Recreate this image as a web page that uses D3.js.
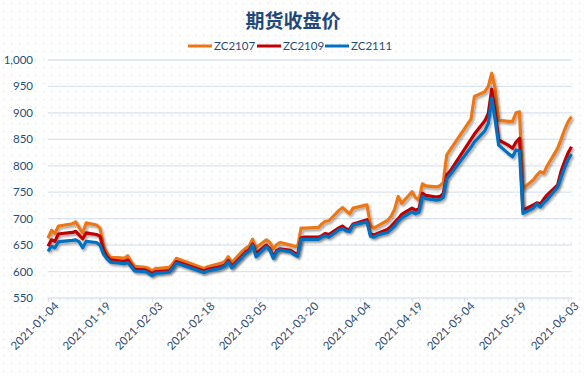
<!DOCTYPE html>
<html>
<head>
<meta charset="utf-8">
<script src="https://cdn.jsdelivr.net/npm/d3@7"></script>
<style>
  body { margin: 0; background: #fff; }
  svg { display: block; }
</style>
</head>
<body>
<svg id="chart" width="585" height="376"></svg>
<script>
// trading days shown on the chart
let dates = [
    "2021-01-04","2021-01-05","2021-01-06","2021-01-07","2021-01-08","2021-01-11","2021-01-12","2021-01-13","2021-01-14","2021-01-15",
    "2021-01-18","2021-01-19","2021-01-20","2021-01-21","2021-01-22","2021-01-25","2021-01-26","2021-01-27","2021-01-28","2021-01-29",
    "2021-02-01","2021-02-02","2021-02-03","2021-02-04","2021-02-05","2021-02-08","2021-02-09","2021-02-10","2021-02-18","2021-02-19",
    "2021-02-22","2021-02-23","2021-02-24","2021-02-25","2021-02-26",
    "2021-03-01","2021-03-02","2021-03-03","2021-03-04","2021-03-05","2021-03-08","2021-03-09","2021-03-10","2021-03-11","2021-03-12",
    "2021-03-15","2021-03-16","2021-03-17","2021-03-18","2021-03-19","2021-03-22","2021-03-23","2021-03-24","2021-03-25","2021-03-26",
    "2021-03-29","2021-03-30","2021-03-31",
    "2021-04-01","2021-04-02","2021-04-06","2021-04-07","2021-04-08","2021-04-09","2021-04-12","2021-04-13","2021-04-14","2021-04-15",
    "2021-04-16","2021-04-19","2021-04-20","2021-04-21","2021-04-22","2021-04-23","2021-04-26","2021-04-27","2021-04-28","2021-04-29",
    "2021-04-30",
    "2021-05-06","2021-05-07","2021-05-10","2021-05-11","2021-05-12","2021-05-13","2021-05-14","2021-05-17","2021-05-18","2021-05-19",
    "2021-05-20","2021-05-21","2021-05-24","2021-05-25","2021-05-26","2021-05-27","2021-05-28","2021-05-31",
    "2021-06-01","2021-06-02","2021-06-03","2021-06-04"
];

let zc2107 = [
    663,678,672,686,687,690,694,683,673,692, 688,682,648,635,627,626,625,630,618,610,
    608,606,601,606,606,608,615,625,606,609, 614,616,619,628,617,
    638,644,648,661,645,660,655,643,651,655, 650,648,647,682,682,683,683,690,695,696, 716,721,715,
    709,720,726,688,682,686,697,705,718,742, 729,751,740,735,766,762,760,762,768,820, 830,
    888,931,940,950,975,945,886,884,884,900, 902,757,773,782,789,786,800,833,
    850,868,883,893
];

let zc2109 = [
    648,660,657,671,672,674,676,669,662,673, 670,667,640,628,622,620,619,622,612,604,
    603,600,596,600,600,602,609,619,601,604, 608,610,612,621,610,
    630,637,641,652,634,650,643,628,640,643, 640,636,632,664,665,665,665,668,672,670, 683,686,680,
    680,690,698,671,669,672,680,686,693,700, 708,720,716,719,748,744,741,742,747,783, 790,
    850,860,885,899,945,900,849,838,833,845, 852,716,726,730,728,737,745,764,
    790,808,824,836
];

let zc2111 = [
    638,648,645,656,657,659,660,656,645,657, 655,650,633,624,618,616,615,617,609,601,
    600,597,592,597,597,599,606,616,598,601, 605,607,610,618,607,
    627,634,638,650,628,647,640,625,637,641, 637,632,629,661,661,661,661,665,668,665, 679,681,677,
    676,688,694,667,665,669,674,680,686,695, 701,713,709,712,742,738,735,736,740,775, 783,
    835,845,866,880,928,885,839,822,817,830, 828,710,720,728,722,730,736,760,
    778,796,812,822
];

let seriesNames = ["ZC2107", "ZC2109", "ZC2111"];
let seriesColors = ["#EC7718", "#C00000", "#0070C0"];
let xTickLabels = ["2021-01-04","2021-01-19","2021-02-03","2021-02-18","2021-03-05","2021-03-20",
    "2021-04-04","2021-04-19","2021-05-04","2021-05-19","2021-06-03"];
let yTicks = [550, 600, 650, 700, 750, 800, 850, 900, 950, 1000];

const textColor = "#1F4E79";
const gridColor = "#DAE3F3";
const labelFont = "Lato, 'Liberation Sans', sans-serif";

let svg = d3.select("#chart");
let parseDate = d3.timeParse("%Y-%m-%d");

let defs = svg.append("defs");

// dotted background like the excel pattern fill
let pattern = defs.append("pattern")
    .attr("id", "dots")
    .attr("width", 8).attr("height", 8)
    .attr("patternUnits", "userSpaceOnUse");
pattern.append("rect").attr("width", 8).attr("height", 8).attr("fill", "#fff");
pattern.append("rect").attr("x", 3).attr("y", 3).attr("width", 1).attr("height", 1).attr("fill", "#D4D4D4");

let shadow = defs.append("filter")
    .attr("id", "shadow")
    .attr("x", "-5%").attr("y", "-5%").attr("width", "110%").attr("height", "120%");
shadow.append("feDropShadow")
    .attr("dx", 1.5).attr("dy", 2)
    .attr("stdDeviation", 1.2)
    .attr("flood-color", "#000")
    .attr("flood-opacity", 0.35);

svg.append("rect").attr("width", 585).attr("height", 376).attr("fill", "url(#dots)");

let x = d3.scaleTime()
    .domain([parseDate("2021-01-04"), parseDate("2021-06-04")])
    .range([48, 571.5]);

let y = d3.scaleLinear()
    .domain([550, 1000])
    .range([298, 60]);

// Gridlines
svg.append("g").selectAll("line")
    .data(yTicks.filter(d => d !== 550))
    .enter()
    .append("line")
    .attr("x1", 48).attr("x2", 572)
    .attr("y1", d => y(d)).attr("y2", d => y(d))
    .attr("stroke", gridColor)
    .attr("stroke-width", 1.3);

// Y labels
svg.append("g").selectAll("text")
    .data(yTicks)
    .enter()
    .append("text")
    .attr("x", 33)
    .attr("y", d => y(d))
    .attr("dy", "0.35em")
    .attr("text-anchor", "end")
    .attr("font-family", labelFont)
    .attr("font-size", 11.5)
    .attr("fill", textColor)
    .text(d => d3.format(",")(d));

// X axis
let xAxis = d3.axisBottom(x)
    .tickValues(xTickLabels.map(parseDate))
    .tickSize(4)
    .tickSizeOuter(0)
    .tickFormat(d3.timeFormat("%Y-%m-%d"));

let xAxisGroup = svg.append("g")
    .attr("transform", "translate(0," + y(550) + ")")
    .call(xAxis);

xAxisGroup.select(".domain")
    .attr("d", "M47.5,0H572")
    .attr("stroke", gridColor)
    .attr("stroke-width", 1.6);
xAxisGroup.selectAll(".tick line")
    .attr("stroke", gridColor)
    .attr("stroke-width", 1.3);
xAxisGroup.selectAll(".tick text")
    .attr("font-family", labelFont)
    .attr("font-size", 11.5)
    .attr("fill", textColor)
    .attr("text-anchor", "end")
    .attr("transform", "translate(4,2) rotate(-45)")
    .attr("dx", 0)
    .attr("dy", "0.5em")
    .attr("y", 4);

// Lines
let line = d3.line()
    .x(d => x(d.date))
    .y(d => y(d.value));

let seriesValues = [zc2107, zc2109, zc2111];

let lineGroup = svg.append("g").attr("class", "lines");

seriesValues.forEach((values, i) => {
    let points = values.map((v, j) => ({date: parseDate(dates[j]), value: v}));
    lineGroup.append("path")
        .datum(points)
        .attr("fill", "none")
        .attr("stroke", seriesColors[i])
        .attr("stroke-width", 3.2)
        .attr("stroke-linejoin", "round")
        .attr("filter", "url(#shadow)")
        .attr("d", line);
});

// Title
svg.append("text")
    .attr("x", 293)
    .attr("y", 28)
    .attr("text-anchor", "middle")
    .attr("font-family", "'Noto Sans CJK SC', sans-serif")
    .attr("font-weight", "bold")
    .attr("font-size", 19)
    .attr("fill", "#1F497D")
    .text("期货收盘价");

// Legend
let legendX = [188, 257, 325];
let legend = svg.append("g").attr("class", "legend");

seriesNames.forEach((name, i) => {
    let g = legend.append("g").attr("transform", "translate(" + legendX[i] + ",46)");
    g.append("line")
        .attr("x1", 0).attr("x2", 24)
        .attr("stroke", seriesColors[i])
        .attr("stroke-width", 3);
    g.append("text")
        .attr("x", 26)
        .attr("dy", "0.35em")
        .attr("font-family", labelFont)
        .attr("font-size", 11.5)
        .attr("fill", textColor)
        .text(name);
});
</script>
</body>
</html>
